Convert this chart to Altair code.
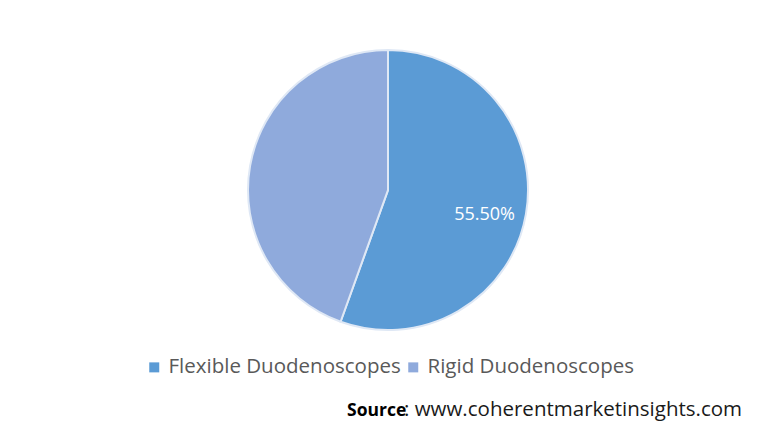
import altair as alt
import pandas as pd

categories = ["Flexible Duodenoscopes", "Rigid Duodenoscopes"]
shares = [55.5, 44.5]
label_texts = ["55.50%", ""]
colors = ["#5B9BD5", "#8FAADC"]
source_bold = ["Source"]
source_rest = [": www.coherentmarketinsights.com"]

df = pd.DataFrame({
    "segment": categories,
    "share": shares,
    "label": label_texts,
    "order": list(range(len(categories))),
})

FONT = "Open Sans"
CX, CY, R = 380, 182, 140

base = alt.Chart(df).encode(
    theta=alt.Theta("share:Q", stack=True),
    order=alt.Order("order:Q"),
)

pie = base.mark_arc(
    outerRadius=R, stroke="#dfe8f5", strokeWidth=2
).encode(
    x=alt.value(CX),
    y=alt.value(CY),
    color=alt.Color(
        "segment:N",
        scale=alt.Scale(domain=categories, range=colors),
        sort=categories,
        legend=alt.Legend(
            title=None,
            orient="none",
            legendX=136,
            legendY=349,
            direction="horizontal",
            symbolType="square",
            symbolSize=100,
            symbolStrokeWidth=0,
            labelFont=FONT,
            labelFontSize=20.5,
            labelColor="#595959",
            labelOffset=4,
            columnPadding=2,
            labelLimit=400,
        ),
    ),
)

labels = base.mark_text(
    radius=98, font=FONT, fontSize=18, color="white", dy=8
).encode(
    x=alt.value(CX),
    y=alt.value(CY),
    text="label:N",
)

src_df = pd.DataFrame({"bold": source_bold, "rest": source_rest})
src_bold = alt.Chart(src_df).mark_text(
    align="left", baseline="alphabetic", font=FONT, fontSize=17.5,
    fontWeight="bold", color="#000000"
).encode(x=alt.value(339), y=alt.value(408), text="bold:N")
src_rest = alt.Chart(src_df).mark_text(
    align="left", baseline="alphabetic", font=FONT, fontSize=20.5,
    color="#1a1a1a"
).encode(x=alt.value(396), y=alt.value(408), text="rest:N")

chart = alt.layer(pie, labels, src_bold, src_rest).properties(
    width=764, height=424, padding=0,
    autosize=alt.AutoSizeParams(type="none"),
).configure(background="white").configure_view(stroke=None)

chart.save("out.html", embed_options={"renderer": "svg", "actions": False})
